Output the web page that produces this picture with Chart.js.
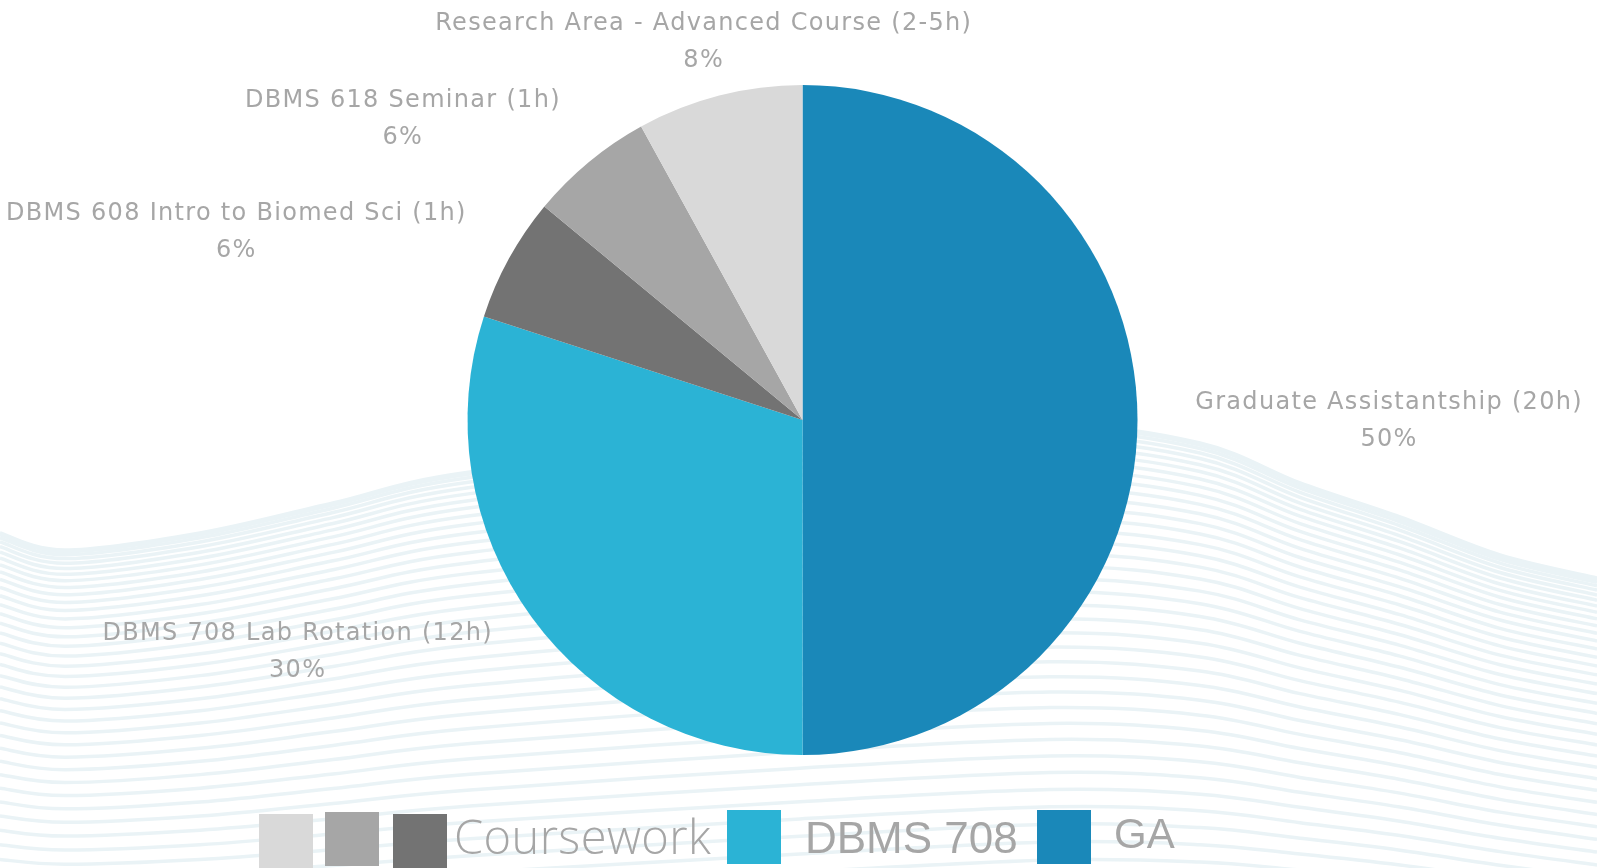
<!DOCTYPE html>
<html>
<head>
<meta charset="utf-8">
<title>Weekly time allocation</title>
<script src="https://cdn.jsdelivr.net/npm/chart.js@4.4.1/dist/chart.umd.min.js"></script>
<style>
    html, body { margin: 0; padding: 0; background: #fff; }
    .wrap { position: relative; width: 1597px; height: 868px; overflow: hidden; }
    .wrap canvas { position: absolute; left: 0; top: 0; }
    .legend { position: absolute; left: 0; top: 0; width: 100%; height: 100%; pointer-events: none; }
    .legend .box { position: absolute; width: 54px; height: 54px; }
    .legend .txt { position: absolute; color: #a6a6a6; white-space: nowrap; line-height: 1; }
</style>
</head>
<body>
<div class="wrap">
    <canvas id="chart" width="1597" height="868"></canvas>
    <div class="legend" id="legend"></div>
</div>
<script>
// slices, clockwise from 12 o'clock
var sliceLabels = [
    'Graduate Assistantship (20h)',
    'DBMS 708 Lab Rotation (12h)',
    'DBMS 608 Intro to Biomed Sci (1h)',
    'DBMS 618 Seminar (1h)',
    'Research Area - Advanced Course (2-5h)'
];
var sliceValues = [50, 30, 6, 6, 8];
var sliceColors = ['#1a88b9', '#2bb3d5', '#737373', '#a6a6a6', '#d9d9d9'];

// bottom legend: which slice colour each box takes, and the text after it
var legendSlices = [4, 3, 2, 1, 0];
var legendTexts = ['', '', 'Coursework', 'DBMS 708', 'GA'];

(function () {
    'use strict';

    var LABEL_COLOR = '#a6a6a6';
    var LABEL_FONT = '24px "DejaVu Sans", sans-serif';

    // background stripes (decoration only)
    var waveX = [0, 65, 200, 333, 470, 800, 1050, 1200, 1300, 1400, 1500, 1597];
    var waveTop = [533, 550, 533, 503, 472, 438, 425, 443, 483, 517, 555, 578];
    var waveBottom = [905, 908, 905, 898, 890, 872, 860, 862, 870, 880, 893, 905];

    function strokeSmooth(ctx, xs, ys) {
        ctx.beginPath();
        ctx.moveTo(xs[0], ys[0]);
        for (var i = 0; i < xs.length - 1; i++) {
            var x0 = xs[Math.max(i - 1, 0)], y0 = ys[Math.max(i - 1, 0)];
            var x1 = xs[i], y1 = ys[i];
            var x2 = xs[i + 1], y2 = ys[i + 1];
            var x3 = xs[Math.min(i + 2, xs.length - 1)], y3 = ys[Math.min(i + 2, xs.length - 1)];
            ctx.bezierCurveTo(
                x1 + (x2 - x0) / 6, y1 + (y2 - y0) / 6,
                x2 - (x3 - x1) / 6, y2 - (y3 - y1) / 6,
                x2, y2
            );
        }
        ctx.stroke();
    }

    var wavePlugin = {
        id: 'waves',
        beforeDraw: function (chart) {
            var ctx = chart.ctx;
            ctx.save();
            ctx.fillStyle = '#ffffff';
            ctx.fillRect(0, 0, chart.width, chart.height);
            ctx.strokeStyle = '#eaf3f6';
            ctx.lineWidth = 3.5;
            var n = 36;
            for (var k = 0; k <= n; k++) {
                var t = Math.pow(k / n, 1.5);
                var ys = [];
                for (var j = 0; j < waveX.length; j++) {
                    ys.push(waveTop[j] + (waveBottom[j] - waveTop[j]) * t);
                }
                strokeSmooth(ctx, waveX, ys);
            }
            ctx.restore();
        }
    };

    var labelPlugin = {
        id: 'outerLabels',
        afterDatasetsDraw: function (chart, args, opts) {
            var ctx = chart.ctx;
            var meta = chart.getDatasetMeta(0);
            var data = chart.data.datasets[0].data;
            var total = 0;
            for (var i = 0; i < data.length; i++) {
                total += data[i];
            }
            ctx.save();
            ctx.font = LABEL_FONT;
            ctx.fillStyle = LABEL_COLOR;
            ctx.textAlign = 'center';
            ctx.textBaseline = 'middle';
            if ('letterSpacing' in ctx) {
                ctx.letterSpacing = '1.3px';
            }
            for (var i = 0; i < meta.data.length; i++) {
                var arc = meta.data[i];
                var p = arc.getProps(['x', 'y', 'outerRadius'], true);
                var off = opts.offsets[i];
                var cx = p.x + off[0] * p.outerRadius;
                var cy = p.y + off[1] * p.outerRadius;
                var pct = Math.round(100 * data[i] / total) + '%';
                ctx.fillText(chart.data.labels[i], cx, cy - 16);
                ctx.fillText(pct, cx, cy + 21);
            }
            ctx.restore();
        }
    };

    function buildLegend() {
        var root = document.getElementById('legend');
        // left edges of each box / text, and box tops
        var boxLeft = [259, 325, 393, 727, 1037];
        var boxTop = [814, 812, 814, 810, 810];
        var textLeft = [0, 0, 454, 805, 1114];
        var textFont = ['', '', '300 47px "Open Sans", sans-serif', '44px "Liberation Sans", sans-serif', '42px "Liberation Sans", sans-serif'];
        var textSpacing = ['', '', '0.4px', '0', '0'];
        var textTop = [0, 0, 804, 813, 810];
        for (var i = 0; i < legendSlices.length; i++) {
            var box = document.createElement('div');
            box.className = 'box';
            box.style.left = boxLeft[i] + 'px';
            box.style.top = boxTop[i] + 'px';
            box.style.background = sliceColors[legendSlices[i]];
            root.appendChild(box);
            if (legendTexts[i]) {
                var txt = document.createElement('div');
                txt.className = 'txt';
                txt.textContent = legendTexts[i];
                txt.style.left = textLeft[i] + 'px';
                txt.style.top = textTop[i] + 'px';
                txt.style.font = textFont[i];
                txt.style.letterSpacing = textSpacing[i];
                root.appendChild(txt);
            }
        }
    }

    new Chart(document.getElementById('chart'), {
        type: 'pie',
        data: {
            labels: sliceLabels,
            datasets: [{
                data: sliceValues,
                backgroundColor: sliceColors,
                borderWidth: 0
            }]
        },
        options: {
            responsive: false,
            animation: false,
            layout: {
                padding: { top: 85, bottom: 113, left: 8, right: 0 }
            },
            plugins: {
                legend: { display: false },
                tooltip: { enabled: false },
                outerLabels: {
                    offsets: [
                        [1.751, -0.003],
                        [-1.507, 0.686],
                        [-1.690, -0.567],
                        [-1.193, -0.906],
                        [-0.295, -1.135]
                    ]
                }
            }
        },
        plugins: [wavePlugin, labelPlugin]
    });

    buildLegend();
})();
</script>
</body>
</html>
